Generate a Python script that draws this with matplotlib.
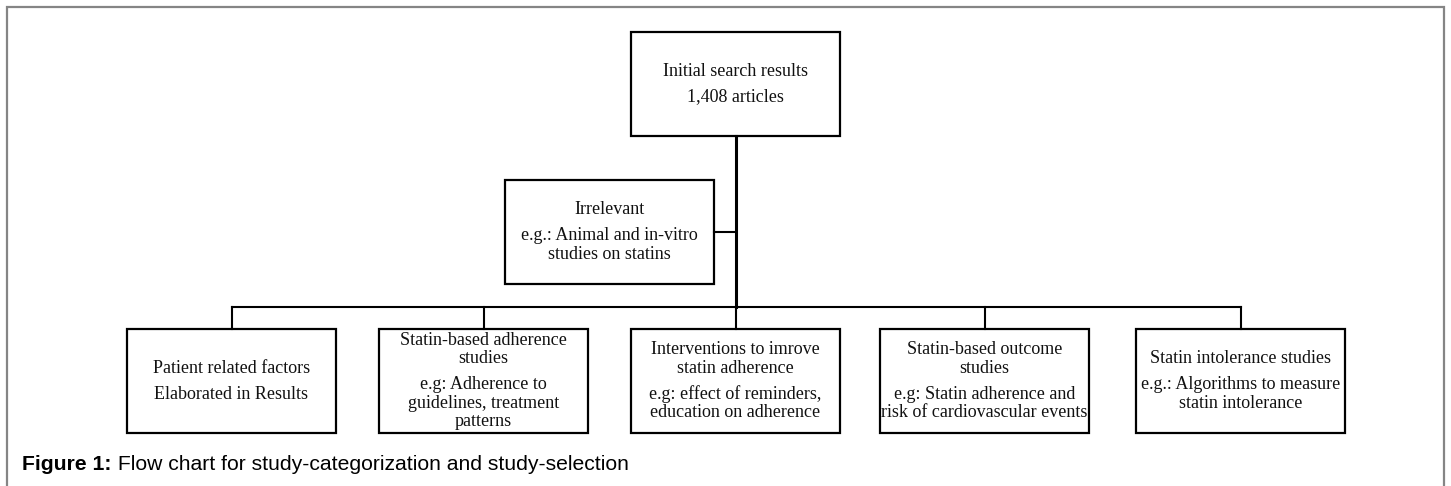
import matplotlib.pyplot as plt
from matplotlib.patches import Rectangle

# text of the flow chart
top_heading = ["Initial search results"]
top_detail = ["1,408 articles"]

side_heading = ["Irrelevant"]
side_detail = ["e.g.: Animal and in-vitro", "studies on statins"]

bottom_headings = [
    ["Patient related factors"],
    ["Statin-based adherence", "studies"],
    ["Interventions to imrove", "statin adherence"],
    ["Statin-based outcome", "studies"],
    ["Statin intolerance studies"],
]
bottom_details = [
    ["Elaborated in Results"],
    ["e.g: Adherence to", "guidelines, treatment", "patterns"],
    ["e.g: effect of reminders,", "education on adherence"],
    ["e.g: Statin adherence and", "risk of cardiovascular events"],
    ["e.g.: Algorithms to measure", "statin intolerance"],
]

caption_bold = "Figure 1:"
caption_text = " Flow chart for study-categorization and study-selection"

# layout in pixels
W, H = 1451, 486
BOX_W, BOX_H = 209, 104
top_box = (631, 32)
side_box = (505, 180)
bottom_left = [127, 379, 631, 880, 1136]
bottom_top = 329
bus_y = 307
trunk_x = 736
LINE_STEP = 18.5
GROUP_GAP = 26

SERIF = "Liberation Serif"
FS = 13

fig = plt.figure(figsize=(W / 100, H / 100), dpi=100)
ax = fig.add_axes([0, 0, 1, 1])
ax.set_xlim(0, W)
ax.set_ylim(H, 0)
ax.axis("off")


def draw_box(x, y, heading, detail):
    ax.add_patch(Rectangle((x, y), BOX_W, BOX_H, fill=False,
                           edgecolor="black", linewidth=1.6, zorder=3))
    n = len(heading) + len(detail)
    total = (n - 2) * LINE_STEP + GROUP_GAP if detail and heading else (n - 1) * LINE_STEP
    cy = y + BOX_H / 2
    yy = cy - total / 2
    cx = x + BOX_W / 2
    for i, line in enumerate(heading):
        ax.text(cx, yy, line, ha="center", va="center", family=SERIF,
                fontsize=FS, color="#111111")
        if i < len(heading) - 1:
            yy += LINE_STEP
    yy += GROUP_GAP
    for line in detail:
        ax.text(cx, yy, line, ha="center", va="center", family=SERIF,
                fontsize=FS, color="#111111")
        yy += LINE_STEP


# outer frame (open at the bottom)
ax.plot([6.5, 6.5, 1444, 1444], [H, 7.5, 7.5, H], color="#858585",
        linewidth=1.6, solid_joinstyle="miter", zorder=1)

# connectors
ax.plot([trunk_x, trunk_x], [top_box[1] + BOX_H, bus_y], color="black",
        linewidth=2.2, zorder=2)
ax.plot([side_box[0] + BOX_W, trunk_x], [side_box[1] + BOX_H / 2] * 2,
        color="black", linewidth=1.5, zorder=2)
centers = [x + BOX_W / 2 for x in bottom_left]
ax.plot([centers[0], centers[-1]], [bus_y, bus_y], color="black",
        linewidth=1.5, zorder=2)
for cx in centers:
    ax.plot([cx, cx], [bus_y, bottom_top], color="black", linewidth=1.5,
            zorder=2)

draw_box(*top_box, top_heading, top_detail)
draw_box(*side_box, side_heading, side_detail)
for x, hd, dt in zip(bottom_left, bottom_headings, bottom_details):
    draw_box(x, bottom_top, hd, dt)

# caption
CAP_FS = 15.2
t = ax.text(22, 464, caption_bold, ha="left", va="center",
            family="Liberation Sans", fontweight="bold", fontsize=CAP_FS)
fig.canvas.draw()
bb = t.get_window_extent()
x_end = ax.transData.inverted().transform((bb.x1, bb.y0))[0]
ax.text(x_end, 464, caption_text, ha="left", va="center",
        family="Liberation Sans", fontsize=CAP_FS)

fig.savefig("out.png", dpi=100)
